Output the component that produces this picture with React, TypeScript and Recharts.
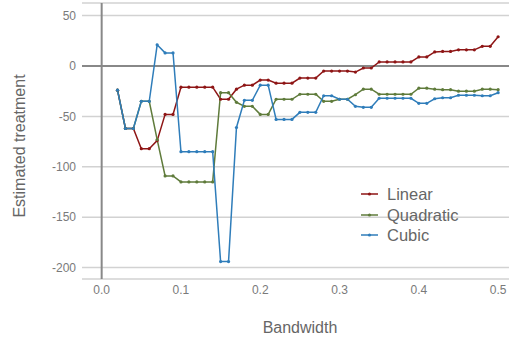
import React from 'react';
import { LineChart, Line, XAxis, YAxis, CartesianGrid, ReferenceLine, Legend, Label } from 'recharts';

const bandwidth = [
  0.02, 0.03, 0.04, 0.05, 0.06, 0.07, 0.08, 0.09, 0.10,
  0.11, 0.12, 0.13, 0.14, 0.15, 0.16, 0.17, 0.18, 0.19, 0.20,
  0.21, 0.22, 0.23, 0.24, 0.25, 0.26, 0.27, 0.28, 0.29, 0.30,
  0.31, 0.32, 0.33, 0.34, 0.35, 0.36, 0.37, 0.38, 0.39, 0.40,
  0.41, 0.42, 0.43, 0.44, 0.45, 0.46, 0.47, 0.48, 0.49, 0.50,
];

const linear = [
  -24, -62, -62, -82, -82, -74, -48, -48, -21,
  -21, -21, -21, -21, -33, -33, -23, -19, -19, -14,
  -14, -17, -17, -17, -12, -12, -12, -5, -5, -5,
  -5, -6, -2, -2, 4, 4, 4, 4, 4, 9,
  9, 14, 14.5, 14.5, 16, 16, 16, 19.5, 19.5, 29,
];

const quadratic = [
  -24, -62, -62, -35, -35, -73, -109, -109, -115,
  -115, -115, -115, -115, -26.5, -26.5, -36, -40, -40, -48,
  -48, -33, -33, -33, -28, -28, -28, -35, -35, -33,
  -33, -28.5, -23, -23, -28, -28, -28, -28, -28, -22,
  -22, -23, -23.5, -23.5, -25, -25, -25, -23, -23, -23.5,
];

const cubic = [
  -24, -62, -62, -35, -35, 21, 13, 13, -85,
  -85, -85, -85, -85, -194, -194, -61, -34, -34, -19,
  -19, -53, -53, -53, -46, -46, -46, -29.5, -29.5, -33,
  -33, -40, -41, -41, -32, -32, -32, -32, -32, -37,
  -37, -32.5, -31.5, -31.5, -29, -29, -29, -29.5, -29.5, -26.5,
];

const xTicks = [0, 0.1, 0.2, 0.3, 0.4, 0.5];
const yTicks = [-200, -150, -100, -50, 0, 50];

const seriesNames = ['Linear', 'Quadratic', 'Cubic'];
const seriesKeys = ['linear', 'quadratic', 'cubic'];
const seriesColors = ['#8E1515', '#5F7B3B', '#2F7DBA'];

const data = bandwidth.map((bw, i) => ({
  bw,
  linear: linear[i],
  quadratic: quadratic[i],
  cubic: cubic[i],
}));

const FONT = '"Liberation Sans", Arial, sans-serif';
const TICK_COLOR = '#7a7a7a';
const TITLE_COLOR = '#666666';

const LegendContent = () => (
  <div style={{ fontFamily: FONT }}>
    {seriesNames.map((name, i) => (
      <div key={name} style={{ display: 'flex', alignItems: 'center', height: 20.5 }}>
        <svg width={29} height={10} style={{ display: 'block' }}>
          <line x1={3} y1={5} x2={20} y2={5} stroke={seriesColors[i]} strokeWidth={1.5} />
          <circle cx={11.5} cy={5} r={1.6} fill={seriesColors[i]} />
        </svg>
        <span style={{ fontSize: 16.5, color: TITLE_COLOR, lineHeight: '20px' }}>{name}</span>
      </div>
    ))}
  </div>
);

const YLabel = (props: any) => {
  const vb = props.viewBox || { x: 0, y: 0, width: 0, height: 0 };
  const cx = vb.x + 19;
  const cy = vb.y + vb.height / 2 + 5;
  return (
    <text
      x={cx}
      y={cy}
      transform={`rotate(-90, ${cx}, ${cy})`}
      textAnchor="middle"
      dominantBaseline="central"
      fontSize={16}
      fill={TITLE_COLOR}
      fontFamily={FONT}
    >
      Estimated treatment
    </text>
  );
};

export default function App() {
  return (
    <div style={{ position: 'absolute', left: 0, top: 0, width: 509, height: 339, background: '#fff', fontFamily: FONT }}>
      <LineChart width={509} height={339} data={data} margin={{ top: 3, right: 0, left: 0, bottom: 0 }}>
        <CartesianGrid vertical={false} stroke="#d2d2d2" strokeWidth={1.5} />
        <XAxis
          dataKey="bw"
          type="number"
          domain={[-0.0248, 0.5137]}
          ticks={xTicks}
          tickFormatter={(v: number) => v.toFixed(1)}
          axisLine={false}
          tickLine={false}
          tickMargin={0}
          height={60}
          allowDataOverflow
          tick={{ fill: TICK_COLOR, fontSize: 12, fontFamily: FONT }}
        >
          <Label value="Bandwidth" position="insideBottom" offset={6.5} dx={4.5} fontSize={16} fill={TITLE_COLOR} fontFamily={FONT} />
        </XAxis>
        <YAxis
          type="number"
          domain={[-211.3, 62.5]}
          ticks={yTicks}
          width={82}
          axisLine={false}
          tickLine={false}
          tickSize={6}
          tickMargin={0}
          allowDataOverflow
          tick={{ fill: TICK_COLOR, fontSize: 12, fontFamily: FONT }}
        >
          <Label content={<YLabel />} />
        </YAxis>
        <ReferenceLine y={0} stroke="#888888" strokeWidth={2} />
        <ReferenceLine x={0} stroke="#888888" strokeWidth={2} />
        <Legend
          layout="vertical"
          align="center"
          verticalAlign="middle"
          content={<LegendContent />}
          wrapperStyle={{ position: 'absolute', left: 358, top: 184, width: 'auto', height: 'auto' }}
        />
        {seriesKeys.map((k, i) => (
          <Line
            key={k}
            type="linear"
            dataKey={k}
            name={seriesNames[i]}
            stroke={seriesColors[i]}
            strokeWidth={1.5}
            dot={{ r: 1.6, fill: seriesColors[i], stroke: seriesColors[i], strokeWidth: 0 }}
            activeDot={false}
            isAnimationActive={false}
          />
        ))}
      </LineChart>
    </div>
  );
}
